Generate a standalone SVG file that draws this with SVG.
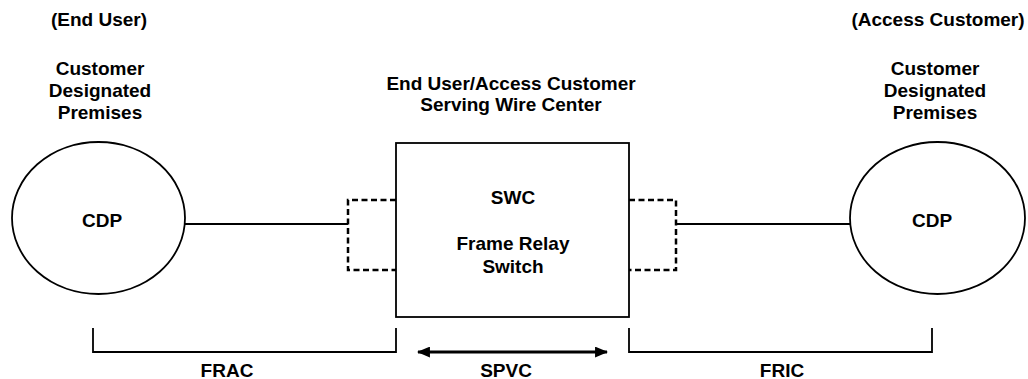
<svg xmlns="http://www.w3.org/2000/svg" width="1028" height="379" viewBox="0 0 1028 379">
<style>
text{font-family:"Liberation Sans",Arial,sans-serif;font-weight:bold;font-size:19px;fill:#000;text-anchor:middle}
.ln{stroke:#000;stroke-width:1.8;fill:none}
.dash{stroke:#000;stroke-width:2.5;fill:none;stroke-dasharray:6 3.5}
.shape{stroke:#000;stroke-width:1.8;fill:#fff}
</style>
<defs>
<marker id="ah" viewBox="0 0 12 10" refX="11" refY="5" markerWidth="13" markerHeight="11" markerUnits="userSpaceOnUse" orient="auto-start-reverse">
<path d="M0,0 L12,5 L0,10 Z" fill="#000"/>
</marker>
</defs>
<rect width="1028" height="379" fill="#fff"/>
<g id="labels">
<text x="99" y="26">(End User)</text>
<text x="100" y="75">Customer</text>
<text x="100" y="97">Designated</text>
<text x="100" y="119">Premises</text>
<text x="938" y="26">(Access Customer)</text>
<text x="935" y="75">Customer</text>
<text x="935" y="97">Designated</text>
<text x="935" y="119">Premises</text>
<text x="511" y="90">End User/Access Customer</text>
<text x="511" y="111">Serving Wire Center</text>
</g>
<g id="connectors">
<line class="ln" x1="185" y1="224" x2="348" y2="224"/>
<line class="ln" x1="676" y1="224" x2="850" y2="224"/>
<path class="dash" d="M396,200 H348 V270 H396"/>
<path class="dash" d="M629,200 H676 V270 H629"/>
<path class="ln" d="M93,328 V352 H396 V328"/>
<path class="ln" d="M629,328 V352 H932 V328"/>
<line x1="418" y1="352" x2="607" y2="352" stroke="#000" stroke-width="3.2" marker-start="url(#ah)" marker-end="url(#ah)"/>
</g>
<g id="cdp-left">
<ellipse class="shape" cx="98.5" cy="218" rx="86.5" ry="76"/>
<text x="102" y="227">CDP</text>
</g>
<g id="swc">
<rect class="shape" x="396" y="143" width="233" height="174"/>
<text x="513" y="204">SWC</text>
<text x="513" y="250">Frame Relay</text>
<text x="513" y="273">Switch</text>
</g>
<g id="cdp-right">
<ellipse class="shape" cx="937.5" cy="218" rx="87.5" ry="76"/>
<text x="932" y="227">CDP</text>
</g>
<g id="bracket-labels">
<text x="227" y="377">FRAC</text>
<text x="506" y="377">SPVC</text>
<text x="782" y="377">FRIC</text>
</g>
</svg>
